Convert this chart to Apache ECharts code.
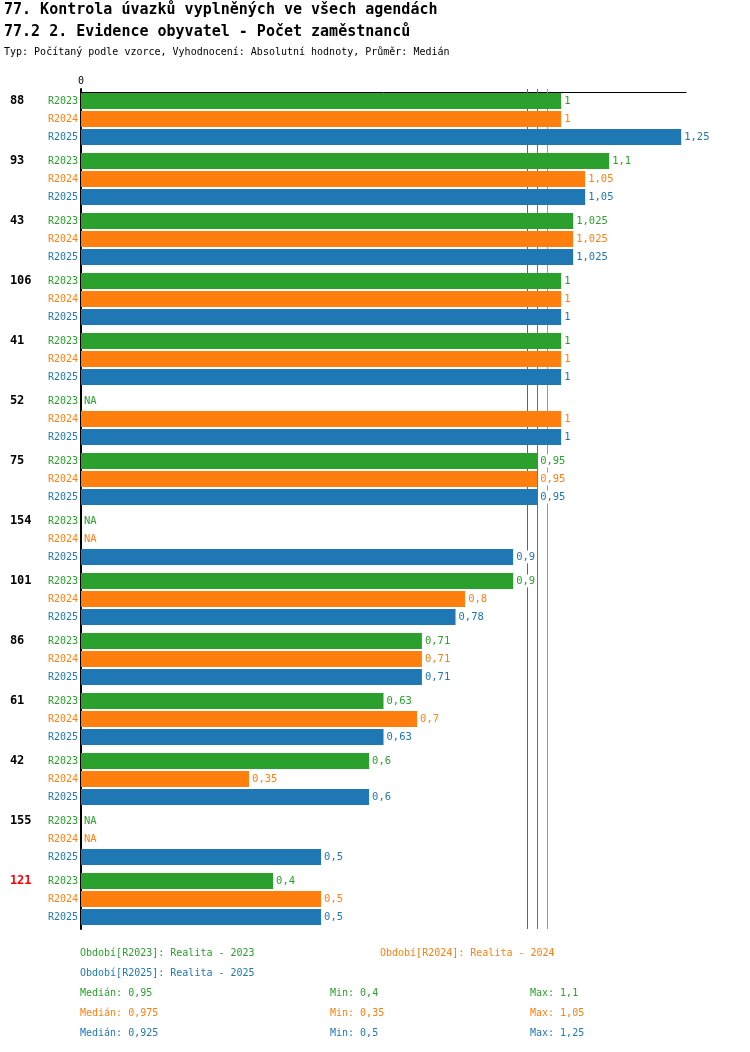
<!DOCTYPE html>
<html>
<head>
<meta charset="utf-8">
<script src="https://cdn.jsdelivr.net/npm/echarts@6/dist/echarts.min.js"></script>
<style>
  html, body { margin: 0; padding: 0; background: #fff; }
  #chart { width: 750px; height: 1052px; }
</style>
</head>
<body>
<div id="chart"></div>
<script>
// data (null = NA)
const groups = ['88', '93', '43', '106', '41', '52', '75', '154', '101', '86', '61', '42', '155', '121'];
const redGroups = ['121'];
const periods = ['R2023', 'R2024', 'R2025'];
const periodNames = ['Realita - 2023', 'Realita - 2024', 'Realita - 2025'];
const colors = ['#2ca02c', '#ff7f0e', '#1f77b4'];
const r2023 = [1, 1.1, 1.025, 1, 1, null, 0.95, null, 0.9, 0.71, 0.63, 0.6, null, 0.4];
const r2024 = [1, 1.05, 1.025, 1, 1, 1, 0.95, null, 0.8, 0.71, 0.7, 0.35, null, 0.5];
const r2025 = [1.25, 1.05, 1.025, 1, 1, 1, 0.95, 0.9, 0.78, 0.71, 0.63, 0.6, 0.5, 0.5];
const values = [r2023, r2024, r2025];

const FONT = '"DejaVu Sans Mono", "Liberation Mono", monospace';
const fmt = v => String(v).replace('.', ',');

const median = arr => {
  const s = arr.filter(v => v != null).sort((a, b) => a - b);
  const m = Math.floor(s.length / 2);
  return s.length % 2 ? s[m] : (s[m - 1] + s[m]) / 2;
};
const stats = values.map(arr => {
  const s = arr.filter(v => v != null);
  return { med: median(arr), min: Math.min(...s), max: Math.max(...s) };
});

const myChart = echarts.init(document.getElementById('chart'));

const series = values.map((arr, i) => ({
  name: periods[i],
  type: 'bar',
  z: 3,
  barWidth: 16,
  barGap: '12.5%',
  itemStyle: { color: colors[i] },
  data: arr.map(v => (v == null ? 0 : v)),
  label: {
    show: true,
    position: 'right',
    distance: 2,
    color: colors[i],
    fontFamily: FONT,
    fontSize: 10.5,
    backgroundColor: '#fff',
    padding: [1, 1],
    formatter: p => (arr[p.dataIndex] == null ? 'NA' : fmt(arr[p.dataIndex]))
  },
  markLine: {
    silent: true,
    z: 1,
    symbol: 'none',
    label: { show: false },
    lineStyle: { color: colors[i], type: 'solid', width: 1 },
    data: [{ xAxis: stats[i].med }]
  }
}));

// bottom legend and statistics as plain text lines
const graphic = [];
const addText = (x, y, text, color) => graphic.push({
  type: 'text', left: x, top: y - 6,
  style: { text: text, fill: color, font: '10px ' + FONT }
});
addText(80, 954, 'Období[' + periods[0] + ']: ' + periodNames[0], colors[0]);
addText(380, 954, 'Období[' + periods[1] + ']: ' + periodNames[1], colors[1]);
addText(80, 974, 'Období[' + periods[2] + ']: ' + periodNames[2], colors[2]);
stats.forEach((s, i) => {
  const y = 994 + i * 20;
  addText(80, y, 'Medián: ' + fmt(s.med), colors[i]);
  addText(330, y, 'Min: ' + fmt(s.min), colors[i]);
  addText(530, y, 'Max: ' + fmt(s.max), colors[i]);
});

myChart.setOption({
  animation: false,
  title: [
    { text: '77. Kontrola úvazků vyplněných ve všech agendách', left: -1, top: -2,
      textStyle: { fontFamily: FONT, fontSize: 15, fontWeight: 'bold', color: '#000' } },
    { text: '77.2 2. Evidence obyvatel - Počet zaměstnanců', left: -1, top: 20,
      textStyle: { fontFamily: FONT, fontSize: 15, fontWeight: 'bold', color: '#000' } },
    { text: 'Typ: Počítaný podle vzorce, Vyhodnocení: Absolutní hodnoty, Průměr: Medián', left: -1, top: 42,
      textStyle: { fontFamily: FONT, fontSize: 10, fontWeight: 'normal', color: '#000' } }
  ],
  grid: { left: 81, right: 64, top: 89, bottom: 123 },
  xAxis: {
    type: 'value',
    position: 'top',
    offset: -3,
    min: 0,
    max: 1.26,
    interval: 1.26,
    splitLine: { show: false },
    axisTick: { show: false },
    axisLine: { show: true, lineStyle: { color: '#000', width: 1 } },
    axisLabel: {
      margin: 6, color: '#000', fontFamily: FONT, fontSize: 10,
      formatter: v => (v === 0 ? '0' : '')
    }
  },
  yAxis: {
    type: 'category',
    inverse: true,
    data: groups,
    axisTick: { show: false },
    axisLine: { show: true, lineStyle: { color: '#000', width: 2 } },
    axisLabel: {
      margin: 3,
      formatter: g => '{' + (redGroups.includes(g) ? 'h' : 'n') + '|' + g + '}{a|' + periods[0] + '}\n{b|' + periods[1] + '}\n{c|' + periods[2] + '}',
      rich: {
        n: { width: 38, align: 'left', fontFamily: FONT, fontSize: 12, fontWeight: 'bold', color: '#000', lineHeight: 18 },
        h: { width: 38, align: 'left', fontFamily: FONT, fontSize: 12, fontWeight: 'bold', color: '#ff0000', lineHeight: 18 },
        a: { align: 'right', fontFamily: FONT, fontSize: 10, color: colors[0], lineHeight: 18 },
        b: { align: 'right', fontFamily: FONT, fontSize: 10, color: colors[1], lineHeight: 18 },
        c: { align: 'right', fontFamily: FONT, fontSize: 10, color: colors[2], lineHeight: 18 }
      }
    }
  },
  graphic: graphic,
  series: series
});
</script>
</body>
</html>
